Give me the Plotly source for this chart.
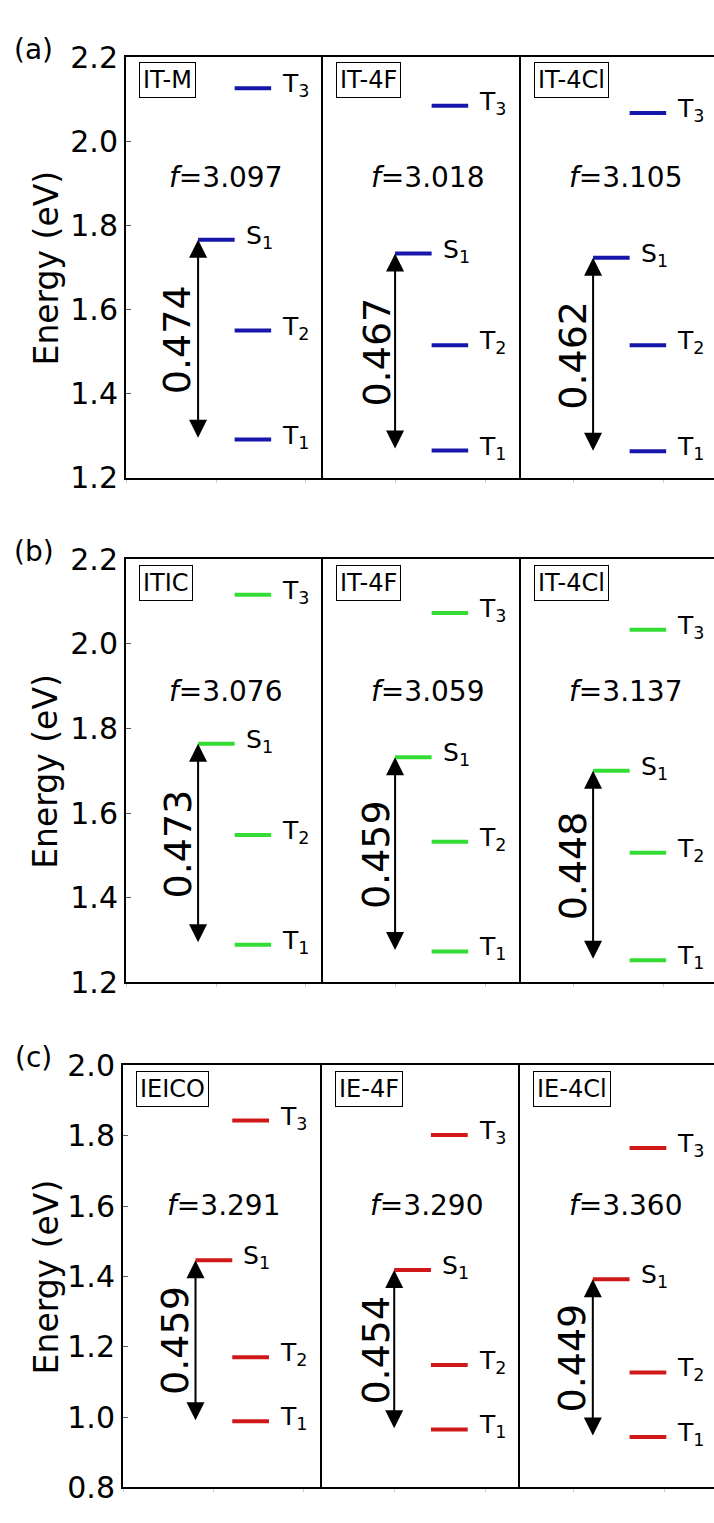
import plotly.graph_objects as go

# ---------------- data ----------------
row_letters = ["(a)", "(b)", "(c)"]

names_a = ["IT-M", "IT-4F", "IT-4Cl"]
S1_a = [1.766, 1.733, 1.723]
T1_a = [1.291, 1.265, 1.263]
T2_a = [1.550, 1.515, 1.515]
T3_a = [2.126, 2.084, 2.067]
gap_a = [0.474, 0.467, 0.462]
f_a = [3.097, 3.018, 3.105]

names_b = ["ITIC", "IT-4F", "IT-4Cl"]
S1_b = [1.764, 1.732, 1.700]
T1_b = [1.289, 1.273, 1.252]
T2_b = [1.548, 1.532, 1.506]
T3_b = [2.116, 2.073, 2.033]
gap_b = [0.473, 0.459, 0.448]
f_b = [3.076, 3.059, 3.137]

names_c = ["IEICO", "IE-4F", "IE-4Cl"]
S1_c = [1.446, 1.418, 1.392]
T1_c = [0.988, 0.965, 0.943]
T2_c = [1.170, 1.148, 1.127]
T3_c = [1.843, 1.802, 1.765]
gap_c = [0.459, 0.454, 0.449]
f_c = [3.291, 3.290, 3.360]

y_ticks_ab = [1.2, 1.4, 1.6, 1.8, 2.0, 2.2]
y_ticks_c = [0.8, 1.0, 1.2, 1.4, 1.6, 1.8, 2.0]

# ---------------- style / layout ----------------
W, H = 714, 1523
FONT = "DejaVu Sans"
COLORS = ["#1616aa", "#33dd33", "#d01818"]

ROWS = [
    dict(names=names_a, S1=S1_a, T1=T1_a, T2=T2_a, T3=T3_a, gap=gap_a, f=f_a,
         yrange=[1.2, 2.2], yticks=y_ticks_ab, fy=0.713),
    dict(names=names_b, S1=S1_b, T1=T1_b, T2=T2_b, T3=T3_b, gap=gap_b, f=f_b,
         yrange=[1.2, 2.2], yticks=y_ticks_ab, fy=0.687),
    dict(names=names_c, S1=S1_c, T1=T1_c, T2=T2_c, T3=T3_c, gap=gap_c, f=f_c,
         yrange=[0.8, 2.0], yticks=y_ticks_c, fy=0.669),
]
# pixel geometry of each row: panel edges x1,x2,x3 and top/bottom of plot area
GEOM = [
    (126.0, 323.0, 521.0, 40.0, 471.0),
    (126.0, 323.0, 521.0, 554.3, 987.7),
    (123.0, 321.7, 520.3, 1072.7, 1505.0),
]
S1_X = (0.365, 0.55)
T_X = (0.55, 0.735)
ARROW_X = 0.365
GAP_LABEL_X = [0.262, 0.272, 0.262]
F_X = [0.505, 0.53, 0.53]
S_LABEL_X = 0.595
T_LABEL_X = 0.78
XTICKS = [[0.0, 0.456, 0.911], [0.368, 0.824], [0.268, 0.724]]

fig = go.Figure()
annotations = []
layout = dict(
    width=W, height=H, margin=dict(l=0, r=0, t=0, b=0),
    paper_bgcolor="white", plot_bgcolor="white", showlegend=False,
    font=dict(family=FONT, color="black"),
)

for r, row in enumerate(ROWS):
    x1, x2, x3, ytop, ybot = GEOM[r]
    pw = (x3 - x1) / 2.0
    edges = [x1, x2, x3, W]
    color = COLORS[r]
    for c in range(3):
        k = r * 3 + c + 1
        xa = "xaxis" if k == 1 else f"xaxis{k}"
        ya = "yaxis" if k == 1 else f"yaxis{k}"
        xr = "x" if k == 1 else f"x{k}"
        yr = "y" if k == 1 else f"y{k}"
        xmax = (edges[c + 1] - edges[c]) / pw
        layout[xa] = dict(
            domain=[edges[c] / W, edges[c + 1] / W], range=[0, xmax], anchor=yr,
            showline=True, mirror=True, linecolor="black", linewidth=2,
            showgrid=False, zeroline=False, ticks="outside", ticklen=3,
            tickcolor="#cccccc", tickvals=XTICKS[c], showticklabels=False,
        )
        layout[ya] = dict(
            domain=[1 - ybot / H, 1 - ytop / H], range=row["yrange"], anchor=xr,
            showline=True, mirror=False, linecolor="black", linewidth=2,
            showgrid=False, zeroline=False,
            ticks="inside" if c == 0 else "", ticklen=5, tickcolor="#555555",
            tickvals=row["yticks"] if c == 0 else [],
            ticktext=[f"{v:.1f}" for v in row["yticks"]] if c == 0 else [],
            showticklabels=(c == 0), tickfont=dict(size=30, family=FONT, color="black"),
        )

        s1, t1, t2, t3 = row["S1"][c], row["T1"][c], row["T2"][c], row["T3"][c]
        gap = row["gap"][c]
        xs = [S1_X[0], S1_X[1], None, T_X[0], T_X[1], None,
              T_X[0], T_X[1], None, T_X[0], T_X[1]]
        ys = [s1, s1, None, t1, t1, None, t2, t2, None, t3, t3]
        fig.add_trace(go.Scatter(x=xs, y=ys, mode="lines", xaxis=xr, yaxis=yr,
                                 line=dict(color=color, width=4), hoverinfo="skip"))

        # double-headed arrow S1 -> S1-gap
        annotations.append(dict(
            x=ARROW_X, y=s1, ax=ARROW_X, ay=s1 - gap, xref=xr, yref=yr, axref=xr, ayref=yr,
            text="", showarrow=True, arrowside="end+start", arrowhead=2, startarrowhead=2,
            arrowsize=1.8, startarrowsize=1.8, arrowwidth=2, arrowcolor="black",
            standoff=0, startstandoff=0,
        ))
        annotations.append(dict(
            x=GAP_LABEL_X[c], y=s1 - gap / 2.0, xref=xr, yref=yr, text=f"{gap:.3f}",
            textangle=-90, showarrow=False, font=dict(size=38, family=FONT),
            xanchor="center", yanchor="middle",
        ))
        annotations.append(dict(
            x=F_X[c], y=row["fy"], xref=xr, yref=f"{yr} domain",
            text=f"<i>f</i>=" + f"{row['f'][c]:.3f}", showarrow=False,
            font=dict(size=28, family=FONT), xanchor="center", yanchor="middle",
        ))
        annotations.append(dict(
            x=13.0 / pw, y=1 - 5.5 / (ybot - ytop), xref=xr, yref=f"{yr} domain",
            text=row["names"][c], showarrow=False, font=dict(size=24, family=FONT),
            xanchor="left", yanchor="top", bordercolor="black", borderwidth=1,
            borderpad=3, bgcolor="white",
        ))
        for lab, yv, lx in [("S<sub>1</sub>", s1, S_LABEL_X), ("T<sub>1</sub>", t1, T_LABEL_X),
                            ("T<sub>2</sub>", t2, T_LABEL_X), ("T<sub>3</sub>", t3, T_LABEL_X)]:
            annotations.append(dict(
                x=lx, y=yv, xref=xr, yref=yr, text=lab, showarrow=False,
                font=dict(size=25, family=FONT), xanchor="left", yanchor="middle",
                yshift=3,
            ))

    # panel letter and y-axis title
    annotations.append(dict(
        x=33.5 / W, y=1 - (ytop - 8) / H, xref="paper", yref="paper",
        text=row_letters[r], showarrow=False, font=dict(size=28, family=FONT),
        xanchor="center", yanchor="middle",
    ))
    annotations.append(dict(
        x=46.0 / W, y=1 - ((ytop + ybot) / 2.0) / H, xref="paper", yref="paper",
        text="Energy (eV)", textangle=-90, showarrow=False,
        font=dict(size=33, family=FONT), xanchor="center", yanchor="middle",
    ))

layout["annotations"] = annotations
fig.update_layout(**layout)
fig.write_html("out.html")
